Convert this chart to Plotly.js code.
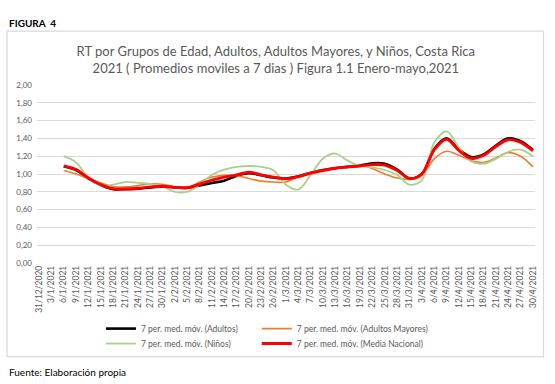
<!DOCTYPE html>
<html><head><meta charset="utf-8">
<script src="https://cdn.plot.ly/plotly-3.0.1.min.js"></script>
<style>html,body{margin:0;padding:0;background:#fff;}#chart{width:555px;height:384px;}</style>
</head><body><div id="chart"></div>
<script>
// Tick labels along the x axis (every 3 days)
const tickLabels = ["31/12/2020","3/1/2021","6/1/2021","9/1/2021","12/1/2021","15/1/2021","18/1/2021","21/1/2021","24/1/2021","27/1/2021","30/1/2021","2/2/2021","5/2/2021","8/2/2021","11/2/2021","14/2/2021","17/2/2021","20/2/2021","23/2/2021","26/2/2021","1/3/2021","4/3/2021","7/3/2021","10/3/2021","13/3/2021","16/3/2021","19/3/2021","22/3/2021","25/3/2021","28/3/2021","31/3/2021","3/4/2021","6/4/2021","9/4/2021","12/4/2021","15/4/2021","18/4/2021","21/4/2021","24/4/2021","27/4/2021","30/4/2021"];
// Dates of the sampled values
const dates = ["6/1/2021","9/1/2021","12/1/2021","15/1/2021","18/1/2021","21/1/2021","24/1/2021","27/1/2021","30/1/2021","2/2/2021","5/2/2021","8/2/2021","11/2/2021","14/2/2021","17/2/2021","20/2/2021","23/2/2021","26/2/2021","1/3/2021","4/3/2021","7/3/2021","10/3/2021","13/3/2021","16/3/2021","19/3/2021","22/3/2021","25/3/2021","28/3/2021","31/3/2021","3/4/2021","6/4/2021","9/4/2021","12/4/2021","15/4/2021","18/4/2021","21/4/2021","24/4/2021","27/4/2021","30/4/2021"];
const adultos = [1.085,1.045,0.95,0.875,0.83,0.83,0.835,0.85,0.86,0.85,0.845,0.87,0.90,0.925,0.98,1.01,0.985,0.96,0.95,0.975,1.015,1.045,1.065,1.08,1.095,1.12,1.115,1.05,0.95,1.00,1.28,1.40,1.275,1.19,1.22,1.32,1.40,1.37,1.27];
const adultosMayores = [1.04,1.00,0.95,0.90,0.86,0.855,0.87,0.89,0.885,0.855,0.845,0.91,0.965,0.985,0.98,0.95,0.92,0.91,0.91,0.975,1.02,1.045,1.065,1.075,1.095,1.06,1.00,0.955,0.94,0.98,1.17,1.255,1.21,1.15,1.13,1.18,1.24,1.20,1.08];
const ninos = [1.20,1.13,0.96,0.87,0.88,0.91,0.90,0.89,0.86,0.80,0.80,0.88,0.99,1.05,1.08,1.09,1.08,1.04,0.88,0.825,0.99,1.175,1.23,1.15,1.09,1.075,1.045,0.99,0.88,0.93,1.35,1.48,1.30,1.14,1.115,1.17,1.25,1.275,1.20];
const mediaNacional = [1.09,1.05,0.955,0.88,0.835,0.833,0.84,0.855,0.862,0.85,0.845,0.885,0.93,0.965,0.99,1.02,0.99,0.965,0.945,0.97,1.01,1.04,1.065,1.08,1.09,1.105,1.10,1.04,0.95,1.00,1.27,1.39,1.265,1.175,1.21,1.31,1.385,1.355,1.26];
const seriesNames = ["7 per. med. móv. (Adultos)","7 per. med. móv. (Adultos Mayores)","7 per. med. móv. (Niños)","7 per. med. móv. (Media Nacional)"];

function toISO(s){const p=s.split('/');return p[2]+'-'+p[1].padStart(2,'0')+'-'+p[0].padStart(2,'0');}
const x = dates.map(toISO);
const tickVals = tickLabels.map(toISO);

const FONT = "Lato, 'Open Sans', sans-serif";
function tr(y,name,color,width,leg){
  return {x:x,y:y,name:name,type:'scatter',mode:'lines',line:{color:color,width:width,shape:'spline',smoothing:1},legend:leg,hoverinfo:'skip'};
}
const data = [
  tr(adultos,seriesNames[0],'#000000',2.6,'legend'),
  tr(adultosMayores,seriesNames[1],'#ED7D31',1.6,'legend2'),
  tr(ninos,seriesNames[2],'#A9D18E',1.8,'legend3'),
  tr(mediaNacional,seriesNames[3],'#FF0000',2.9,'legend4')
];
const L=37, R=535.5, T=85, B=263.3;
const px = v => (v-L)/(R-L);
const py = v => (B-v)/(B-T);
const legFont = {size:8.5,color:'#595959',family:FONT};
function leg(xp,yp){return {orientation:'h',x:px(xp),y:py(yp),xanchor:'left',yanchor:'middle',font:legFont,bgcolor:'rgba(0,0,0,0)'};}
const layout = {
  width:555,height:384,
  margin:{l:L,r:555-R,t:T,b:384-B},
  paper_bgcolor:'#ffffff',plot_bgcolor:'#ffffff',
  separators:',.',
  font:{family:FONT,color:'#595959',size:9},
  title:{text:'RT por Grupos de Edad, Adultos, Adultos Mayores, y Niños, Costa Rica<br>2021 ( Promedios moviles a 7 dias ) Figura 1.1 Enero-mayo,2021',
    font:{family:FONT,size:13,color:'#595959'},x:0.497,xref:'container',xanchor:'center',y:1-56/384,yref:'container',yanchor:'middle'},
  xaxis:{type:'date',range:['2020-12-30 12:00','2021-04-30 12:00'],tickmode:'array',tickvals:tickVals,ticktext:tickLabels,
    tickangle:-90,tickfont:{size:8.5,color:'#595959',family:FONT},showgrid:false,zeroline:false,showline:false,ticks:'',fixedrange:true},
  yaxis:{range:[0,2],dtick:0.2,tick0:0,tickformat:'.2f',tickfont:{size:8,color:'#595959',family:FONT},
    showgrid:true,gridcolor:'#D9D9D9',gridwidth:1,zeroline:false,showline:false,ticks:'',ticklabelstandoff:4,fixedrange:true},
  showlegend:true,
  legend:leg(101,329),
  legend2:leg(257,329),
  legend3:leg(101,344),
  legend4:leg(257,344),
  shapes:[{type:'rect',xref:'paper',yref:'paper',x0:px(7),x1:px(544),y0:py(357),y1:py(31),line:{color:'#D9D9D9',width:1.2},fillcolor:'rgba(0,0,0,0)',layer:'below'}],
  annotations:[
    {text:'<b>FIGURA  4</b>',xref:'paper',yref:'paper',x:px(7),y:py(23),xanchor:'left',yanchor:'middle',showarrow:false,font:{family:FONT,size:10,color:'#000000'}},
    {text:'Fuente: Elaboración propia',xref:'paper',yref:'paper',x:px(7),y:py(372.5),xanchor:'left',yanchor:'middle',showarrow:false,font:{family:FONT,size:10,color:'#000000'}}
  ]
};
Plotly.newPlot('chart',data,layout,{staticPlot:true,displayModeBar:false});
</script></body></html>
